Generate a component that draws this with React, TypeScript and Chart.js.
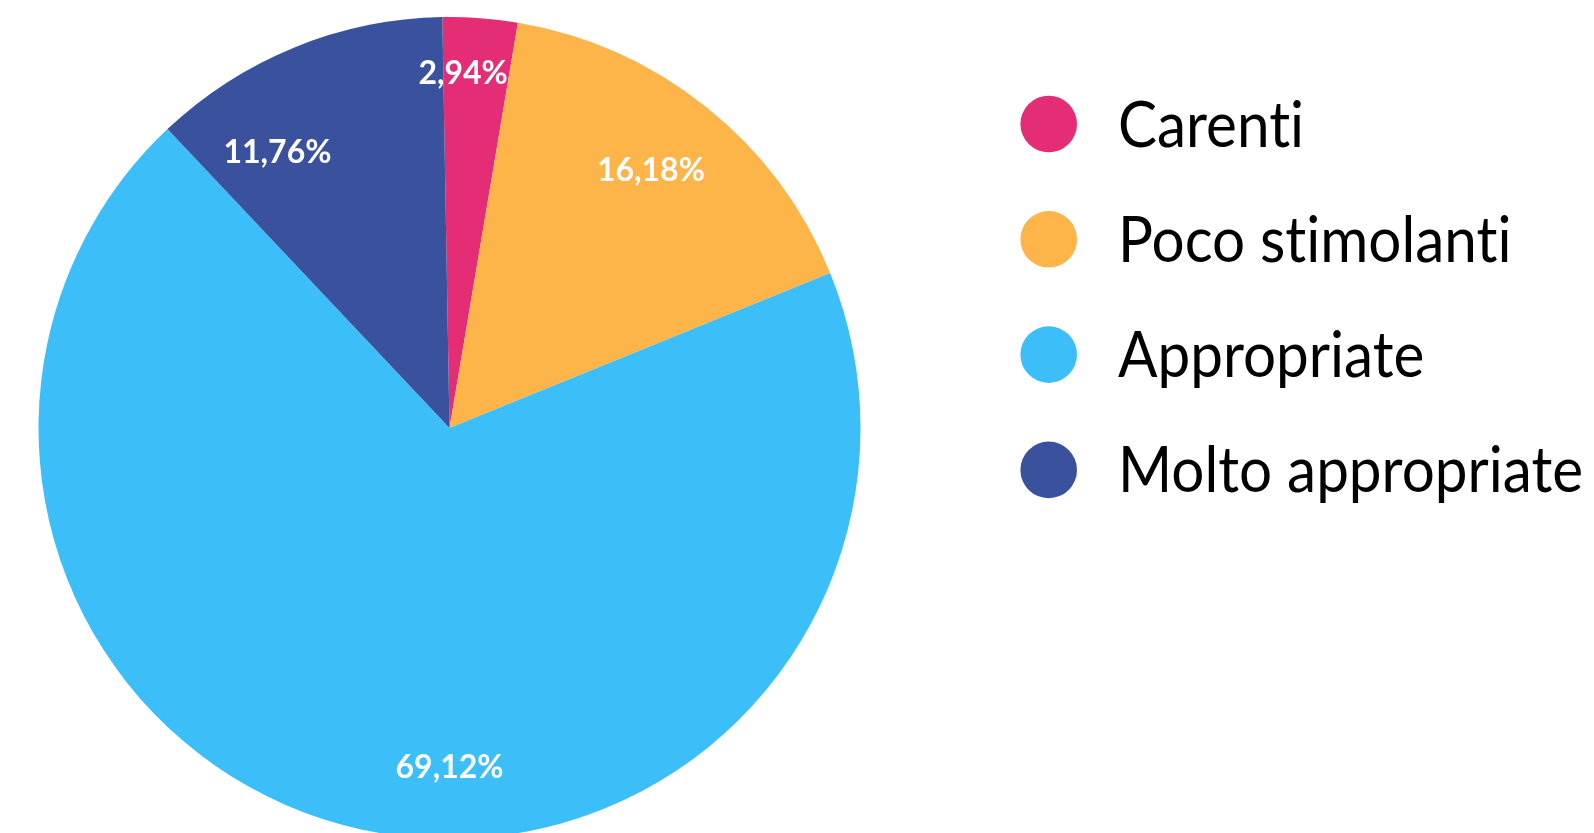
import React, { useEffect, useRef } from "react";
import { Chart, registerables } from "chart.js";

Chart.register(...registerables);

const categories = ["Carenti", "Poco stimolanti", "Appropriate", "Molto appropriate"];
const values = [2.94, 16.18, 69.12, 11.76];
const valueLabels = ["2,94%", "16,18%", "69,12%", "11,76%"];
const colors = ["#E52D76", "#FDB549", "#3CBEF8", "#3A519D"];

// label placement: angle (deg clockwise from top) and fraction of the radius
const labelAngles = [2.2, 38, 180, 328];
const labelRadii = [0.862, 0.796, 0.827, 0.79];

const overlayPlugin = {
  id: "overlay",
  afterDatasetsDraw(chart: any) {
    const meta = chart.getDatasetMeta(0);
    const arc = meta.data[0];
    if (!arc) return;
    const cx = arc.x;
    const cy = arc.y;
    const r = arc.outerRadius;
    const ctx = chart.ctx;
    ctx.save();
    try {
      (ctx as any).textRendering = "optimizeSpeed";
    } catch (e) {}
    // slice labels
    ctx.fillStyle = "#ffffff";
    ctx.font = "700 32px Lato";
    ctx.textAlign = "center";
    ctx.textBaseline = "middle";
    valueLabels.forEach((t, i) => {
      const a = (labelAngles[i] * Math.PI) / 180;
      const x = cx + r * labelRadii[i] * Math.sin(a);
      const y = cy - r * labelRadii[i] * Math.cos(a);
      ctx.fillText(t, x, y);
    });
    // legend
    const lx = cx + 599.2;
    const tx = cx + 668.5;
    const y0 = cy - 304;
    const step = 115.3;
    categories.forEach((c, i) => {
      const y = y0 + step * i;
      ctx.fillStyle = colors[i];
      ctx.beginPath();
      ctx.arc(lx, y, 28.3, 0, Math.PI * 2);
      ctx.fill();
      ctx.save();
      ctx.translate(tx, y + 22.5);
      ctx.scale(0.99, 1.08);
      ctx.fillStyle = "#000000";
      ctx.font = "400 59px Lato";
      try {
        (ctx as any).textRendering = "optimizeSpeed";
      } catch (e) {}
      ctx.textAlign = "left";
      ctx.textBaseline = "alphabetic";
      ctx.fillText(c, 0, 0);
      ctx.restore();
    });
    ctx.restore();
  },
};

export default function App() {
  const ref = useRef<HTMLCanvasElement>(null);
  useEffect(() => {
    document.documentElement.style.overflow = "hidden";
    document.body.style.overflow = "hidden";
    if (!ref.current) return;
    const chart = new Chart(ref.current, {
      type: "pie",
      data: {
        labels: categories,
        datasets: [
          {
            data: values,
            backgroundColor: colors,
            borderWidth: 0,
          },
        ],
      },
      options: {
        animation: false,
        responsive: true,
        maintainAspectRatio: false,
        rotation: -1,
        layout: { padding: { left: 30.5, right: 725.5, top: 9, bottom: 9 } },
        plugins: {
          legend: { display: false },
          tooltip: { enabled: false },
        },
      },
      plugins: [overlayPlugin],
    });
    return () => chart.destroy();
  }, []);
  return (
    <div style={{ position: "relative", width: "1578px", height: "840px" }}>
      <canvas ref={ref} />
    </div>
  );
}
